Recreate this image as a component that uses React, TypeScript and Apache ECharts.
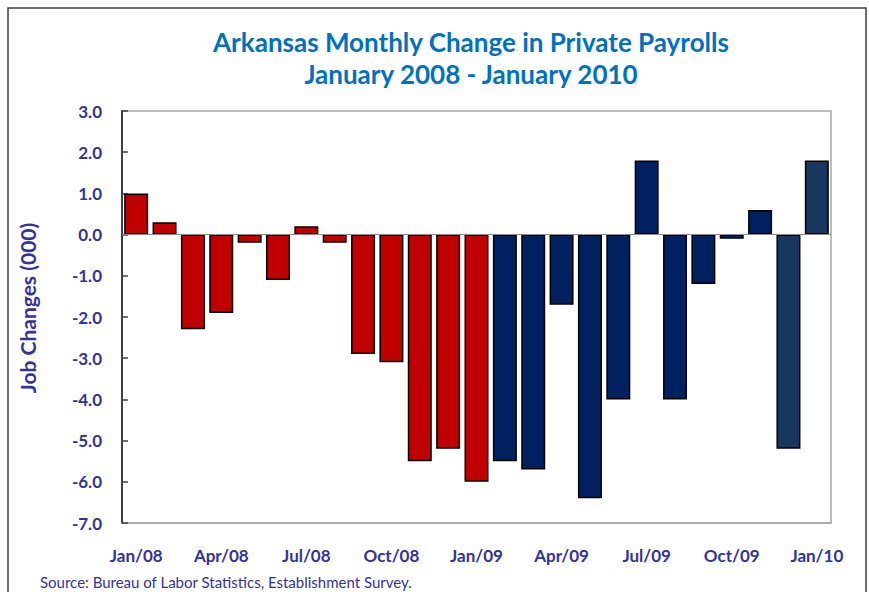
import React, { useEffect, useRef } from "react";
import * as echarts from "echarts";

const months: string[] = [
  "Jan/08", "Feb/08", "Mar/08", "Apr/08", "May/08", "Jun/08", "Jul/08", "Aug/08", "Sep/08", "Oct/08", "Nov/08", "Dec/08",
  "Jan/09", "Feb/09", "Mar/09", "Apr/09", "May/09", "Jun/09", "Jul/09", "Aug/09", "Sep/09", "Oct/09", "Nov/09", "Dec/09",
  "Jan/10",
];
const jobChanges: number[] = [
  1.0, 0.3, -2.3, -1.9, -0.2, -1.1, 0.2, -0.2, -2.9, -3.1, -5.5, -5.2,
  -6.0, -5.5, -5.7, -1.7, -6.4, -4.0, 1.8, -4.0, -1.2, -0.1, 0.6, -5.2,
  1.8,
];
// colour group per bar: 0 = 2008 red, 1 = 2009 navy, 2 = latest navy
const colorGroup: number[] = [
  0, 0, 0, 0, 0, 0, 0, 0, 0, 0, 0, 0,
  0, 1, 1, 1, 1, 1, 1, 1, 1, 1, 1, 2,
  2,
];
const groupColors: string[] = ["#C00000", "#002060", "#17375E"];
const yTicks = { min: -7, max: 3, interval: 1 };

const titleText = "Arkansas Monthly Change in Private Payrolls\nJanuary 2008 - January 2010";
const yAxisTitle = "Job Changes (000)";
const sourceText = "Source: Bureau of Labor Statistics, Establishment Survey.";

const FONT = "Lato, 'Open Sans', sans-serif";
const LABEL_COLOR = "#333399";

export default function App() {
  const ref = useRef<HTMLDivElement>(null);
  useEffect(() => {
    if (!ref.current) return;
    const chart = echarts.init(ref.current, undefined, { renderer: "svg" });
    chart.setOption({
      animation: false,
      backgroundColor: "#ffffff",
      title: {
        text: titleText,
        left: 466,
        top: 21,
        textAlign: "center",
        textStyle: {
          fontFamily: FONT,
          fontSize: 26,
          fontWeight: "bold",
          color: "#0070C0",
          lineHeight: 32,
        },
      },
      grid: {
        left: 122,
        top: 111,
        width: 709,
        height: 412,
        show: true,
        borderColor: "#a6a6a6",
        borderWidth: 1.5,
        backgroundColor: "transparent",
      },
      xAxis: {
        type: "category",
        data: months,
        axisLine: { onZero: false, lineStyle: { color: "#a6a6a6", width: 1.5 } },
        axisTick: { show: false },
        axisLabel: {
          interval: 2,
          margin: 24,
          fontFamily: FONT,
          fontSize: 17,
          fontWeight: "bold",
          color: LABEL_COLOR,
        },
      },
      yAxis: {
        type: "value",
        min: yTicks.min,
        max: yTicks.max,
        interval: yTicks.interval,
        splitLine: { show: false },
        axisLine: { show: true, lineStyle: { color: "#404040", width: 2 } },
        axisTick: { show: true, inside: true, length: 6, lineStyle: { color: "#404040", width: 1.5 } },
        axisLabel: {
          margin: 20,
          formatter: (v: number) => v.toFixed(1),
          fontFamily: FONT,
          fontSize: 17,
          fontWeight: "bold",
          color: LABEL_COLOR,
        },
      },
      series: [
        {
          type: "bar",
          barWidth: 24,
          data: jobChanges.map((v, i) => ({
            value: v,
            itemStyle: { color: groupColors[colorGroup[i]] },
          })),
          itemStyle: { borderColor: "#000000", borderWidth: 1.5 },
          markLine: {
            silent: true,
            symbol: "none",
            label: { show: false },
            lineStyle: { color: "#8c8c8c", width: 1, type: "solid" },
            data: [{ yAxis: 0 }],
          },
        },
      ],
      graphic: [
        {
          type: "rect",
          shape: { x: 8, y: 8, width: 858, height: 620 },
          style: { fill: "none", stroke: "#404040", lineWidth: 1.5 },
          silent: true,
        },
        {
          type: "text",
          x: 27,
          y: 308,
          rotation: Math.PI / 2,
          style: {
            text: yAxisTitle,
            fontFamily: FONT,
            fontSize: 21,
            fontWeight: "bold",
            fill: LABEL_COLOR,
            align: "center",
            verticalAlign: "middle",
          },
        },
        {
          type: "text",
          x: 40,
          y: 582,
          style: {
            text: sourceText,
            fontFamily: FONT,
            fontSize: 15,
            fill: LABEL_COLOR,
            align: "left",
            verticalAlign: "middle",
          },
        },
      ],
    });
    return () => chart.dispose();
  }, []);
  return (
    <div
      ref={ref}
      style={{ position: "fixed", left: 0, top: 0, width: 869, height: 592 }}
    />
  );
}
